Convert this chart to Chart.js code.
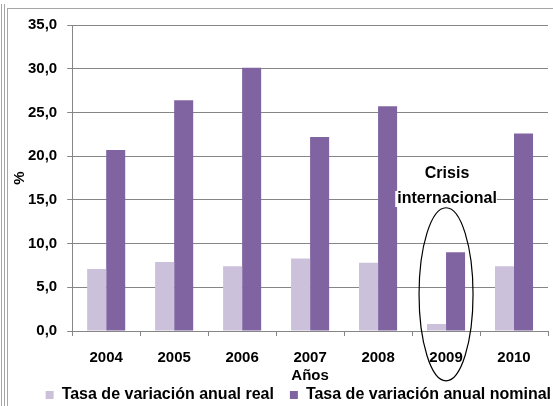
<!DOCTYPE html>
<html>
<head>
<meta charset="utf-8">
<script src="https://cdn.jsdelivr.net/npm/chart.js@4"></script>
<style>
  body { margin: 0; background: #fff; }
  #wrap { position: relative; width: 553px; height: 406px; overflow: hidden; }
  .edge { position: absolute; top: 4px; bottom: 0; width: 0; border-left: 1px solid #a6a6a6; }
  #frame { position: absolute; left: 7px; top: 8px; width: 600px; height: 500px; border: 1px solid #a6a6a6; }
  canvas { position: absolute; left: 0; top: 0; }
</style>
</head>
<body>
<div id="wrap">
  <div class="edge" style="left:1px"></div>
  <div class="edge" style="left:4px"></div>
  <div id="frame"></div>
  <canvas id="chart" width="553" height="406"></canvas>
</div>
<script>
// datos
const anios = ['2004', '2005', '2006', '2007', '2008', '2009', '2010']
const tasaReal = [7.1, 7.9, 7.4, 8.3, 7.8, 0.8, 7.4]
const tasaNominal = [20.7, 26.4, 30.1, 22.2, 25.7, 9.0, 22.6]
const yTicks = [0, 5, 10, 15, 20, 25, 30, 35]

// ovalo + texto "Crisis internacional" sobre 2009
const crisis = {
    id: 'crisis',
    afterDraw(chart) {
        const ctx = chart.ctx
        const x = chart.scales.x
        const y = chart.scales.y
        const cx = x.getPixelForValue(5)
        const top = y.getPixelForValue(14.1)
        const bot = y.getPixelForValue(-5.7)
        ctx.save()
        ctx.beginPath()
        ctx.ellipse(cx, (top + bot) / 2, 27, (bot - top) / 2, 0, 0, Math.PI * 2)
        ctx.strokeStyle = '#000'
        ctx.lineWidth = 1.2
        ctx.stroke()
        ctx.font = 'bold 16px "Liberation Sans", Arial, sans-serif'
        ctx.textAlign = 'center'
        ctx.textBaseline = 'middle'
        const lines = [['Crisis', 18.0], ['internacional', 15.1]]
        lines.forEach(([t, v]) => {
            const py = y.getPixelForValue(v)
            const w = ctx.measureText(t).width
            ctx.fillStyle = '#fff'
            ctx.fillRect(cx - w / 2 - 1, py - 8, w + 2, 16)
            ctx.fillStyle = '#000'
            ctx.fillText(t, cx + 1, py)
        })
        ctx.restore()
    }
}

// mover la leyenda un poco (arriba y a la derecha)
const moverLeyenda = {
    id: 'moverLeyenda',
    afterLayout(chart) {
        const l = chart.legend
        l.top -= 12; l.bottom -= 12
        l.left += 19; l.right += 19
    }
}

const font = { family: '"Liberation Sans", Arial, sans-serif', weight: 'bold', size: 15 }

new Chart(document.getElementById('chart'), {
    type: 'bar',
    data: {
        labels: anios,
        datasets: [
            {
                label: 'Tasa de variación anual real',
                data: tasaReal,
                backgroundColor: '#CCC1DA'
            },
            {
                label: 'Tasa de variación anual nominal',
                data: tasaNominal,
                backgroundColor: '#8064A2'
            }
        ]
    },
    options: {
        responsive: false,
        animation: false,
        categoryPercentage: 0.56,
        barPercentage: 1,
        layout: { padding: { top: 25, left: 3, right: 5, bottom: -19 } },
        plugins: {
            tooltip: { enabled: false },
            legend: {
                position: 'bottom',
                align: 'end',
                labels: {
                    boxWidth: 8,
                    boxHeight: 8,
                    padding: 16,
                    color: '#000',
                    font: { ...font, size: 16 }
                }
            }
        },
        scales: {
            x: {
                offset: true,
                grid: { offset: true, drawOnChartArea: false, tickLength: 5, color: '#868686' },
                border: { color: '#868686' },
                ticks: { color: '#000', font: font, padding: 13 },
                title: { display: true, text: 'Años', color: '#000', font: font, padding: { top: -13, bottom: -2 } }
            },
            y: {
                min: 0,
                max: 35,
                afterBuildTicks: axis => { axis.ticks = yTicks.map(v => ({ value: v })) },
                grid: { color: '#868686', tickLength: 5 },
                border: { color: '#868686' },
                ticks: {
                    color: '#000',
                    font: font,
                    padding: 10,
                    callback: v => v.toFixed(1).replace('.', ',')
                },
                title: { display: true, text: '%', color: '#000', font: font, padding: { top: 8, bottom: -11 } }
            }
        }
    },
    plugins: [crisis, moverLeyenda]
})
</script>
</body>
</html>
